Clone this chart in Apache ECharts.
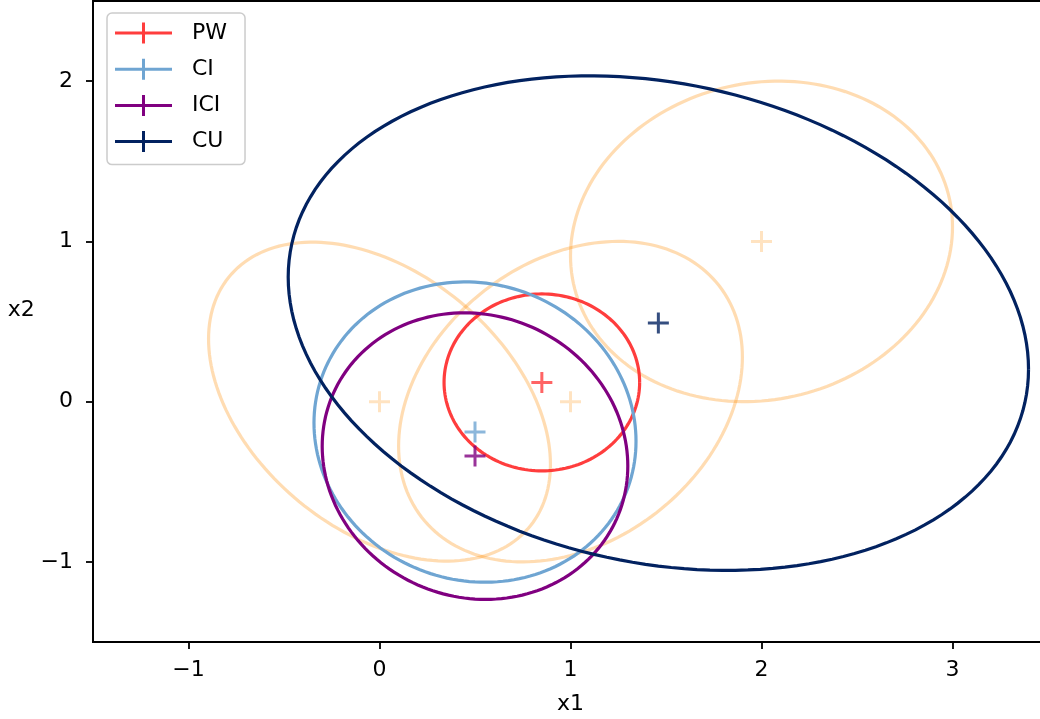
<!DOCTYPE html>
<html>
<head>
    <meta charset="utf-8">
    <title>Fusion ellipses</title>
    <script src="https://cdn.jsdelivr.net/npm/echarts@6/dist/echarts.min.js"></script>
    <style>
        * { padding: 0; margin: 0; }
        body { background: #fff; }
    </style>
</head>
<body>
    <div id="main" style="width:1040px;height:719px;"></div>
    <script type="text/javascript">
        // axis ticks
        var xTicks = [-1, 0, 1, 2, 3];
        var yTicks = [-1, 0, 1, 2];

        // input estimates (orange): mean, std devs and correlation of the ellipse
        var inX = [0, 1, 2];
        var inY = [0, 0, 1];
        var inSx = [0.895, 0.90, 1.00];
        var inSy = [0.995, 1.00, 1.00];
        var inRho = [-0.393, 0.278, 0.09];

        // fused estimates
        var estNames = ['PW', 'CI', 'ICI', 'CU'];
        var estX = [0.85, 0.50, 0.50, 1.46];
        var estY = [0.12, -0.19, -0.34, 0.49];
        var estSx = [0.512, 0.843, 0.800, 1.938];
        var estSy = [0.552, 0.937, 0.894, 1.543];
        var estRho = [0.0, -0.061, -0.069, -0.186];

        var estColors = ['rgba(255,45,45,0.92)', '#6fa5d2', '#800080', '#022260'];
        var inColor = 'rgba(255,140,0,0.3)';
        var FONT = 'DejaVu Sans';

        var crossSym = 'path://M0,9H21V12H0Z M9,0H12V21H9Z';
        var legendIcon = 'path://M0,9H57V12H0Z M27,0H30V21H27Z';

        function ellipseRender(color) {
            return function (params, api) {
                var cx = api.value(0), cy = api.value(1);
                var sx = api.value(2), sy = api.value(3), r = api.value(4);
                var k = Math.sqrt(1 - r * r);
                var pts = [];
                for (var i = 0; i <= 180; i++) {
                    var t = i / 180 * Math.PI * 2;
                    var c = Math.cos(t), s = Math.sin(t);
                    pts.push(api.coord([cx + sx * c, cy + sy * (r * c + k * s)]));
                }
                return {
                    type: 'polyline',
                    shape: { points: pts },
                    style: { fill: null, stroke: color, lineWidth: 3.2 }
                };
            };
        }

        var series = [];
        // orange input ellipses and centers
        series.push({
            type: 'custom',
            renderItem: ellipseRender(inColor),
            encode: { x: 0, y: 1 },
            data: inX.map(function (v, i) { return [v, inY[i], inSx[i], inSy[i], inRho[i]]; }),
            silent: true, z: 1
        });
        series.push({
            type: 'scatter',
            symbol: crossSym,
            symbolSize: 21,
            itemStyle: { color: inColor },
            data: inX.map(function (v, i) { return [v, inY[i]]; }),
            silent: true, z: 1
        });
        estNames.forEach(function (name, i) {
            series.push({
                name: name,
                type: 'custom',
                renderItem: ellipseRender(estColors[i]),
                encode: { x: 0, y: 1 },
                itemStyle: { color: estColors[i] },
                data: [[estX[i], estY[i], estSx[i], estSy[i], estRho[i]]],
                silent: true, z: 2
            });
            series.push({
                name: name,
                type: 'scatter',
                symbol: crossSym,
                symbolSize: 21,
                itemStyle: { color: estColors[i] },
                data: [[estX[i], estY[i]]],
                silent: true, z: 2
            });
        });

        function fmt(v) { return String(v).replace('-', '\u2212'); }

        var myChart = echarts.init(document.getElementById('main'));
        var option = {
            backgroundColor: '#fff',
            animation: false,
            grid: {
                left: 93, right: -8, top: 1, bottom: 77,
                outerBoundsMode: 'none',
                containLabel: false,
                show: true, borderColor: '#000', borderWidth: 1.8
            },
            legend: {
                orient: 'vertical',
                left: 107, top: 13,
                padding: [9, 18, 12, 8],
                itemWidth: 57, itemHeight: 21, itemGap: 14.2,
                borderColor: '#cccccc', borderWidth: 1.5, borderRadius: 5,
                backgroundColor: 'rgba(255,255,255,0.8)',
                textStyle: { fontFamily: FONT, fontSize: 22, color: '#000', padding: [0, 0, 0, 15] },
                data: estNames.map(function (n) { return { name: n, icon: legendIcon }; }),
                selectedMode: false,
                z: 10
            },
            xAxis: {
                type: 'value', min: -1.5, max: 3.5,
                name: 'x1', nameLocation: 'middle', nameGap: 51,
                nameTextStyle: { fontFamily: FONT, fontSize: 22, color: '#000' },
                axisLine: { onZero: false, lineStyle: { color: '#000', width: 1.8 } },
                axisTick: { length: 7, lineStyle: { color: '#000', width: 1.8 }, customValues: xTicks },
                axisLabel: { customValues: xTicks, formatter: fmt, fontFamily: FONT, fontSize: 22, color: '#000', margin: 17 },
                splitLine: { show: false }
            },
            yAxis: {
                type: 'value', min: -1.5, max: 2.5,
                name: 'x2', nameLocation: 'middle', nameRotate: 0, nameGap: 53,
                nameTextStyle: { fontFamily: FONT, fontSize: 22, color: '#000', verticalAlign: 'bottom' },
                axisLine: { onZero: false, lineStyle: { color: '#000', width: 1.8 } },
                axisTick: { length: 7, lineStyle: { color: '#000', width: 1.8 }, customValues: yTicks },
                axisLabel: { customValues: yTicks, formatter: fmt, fontFamily: FONT, fontSize: 22, color: '#000', margin: 20 },
                splitLine: { show: false }
            },
            series: series
        };
        myChart.setOption(option);
    </script>
</body>
</html>
